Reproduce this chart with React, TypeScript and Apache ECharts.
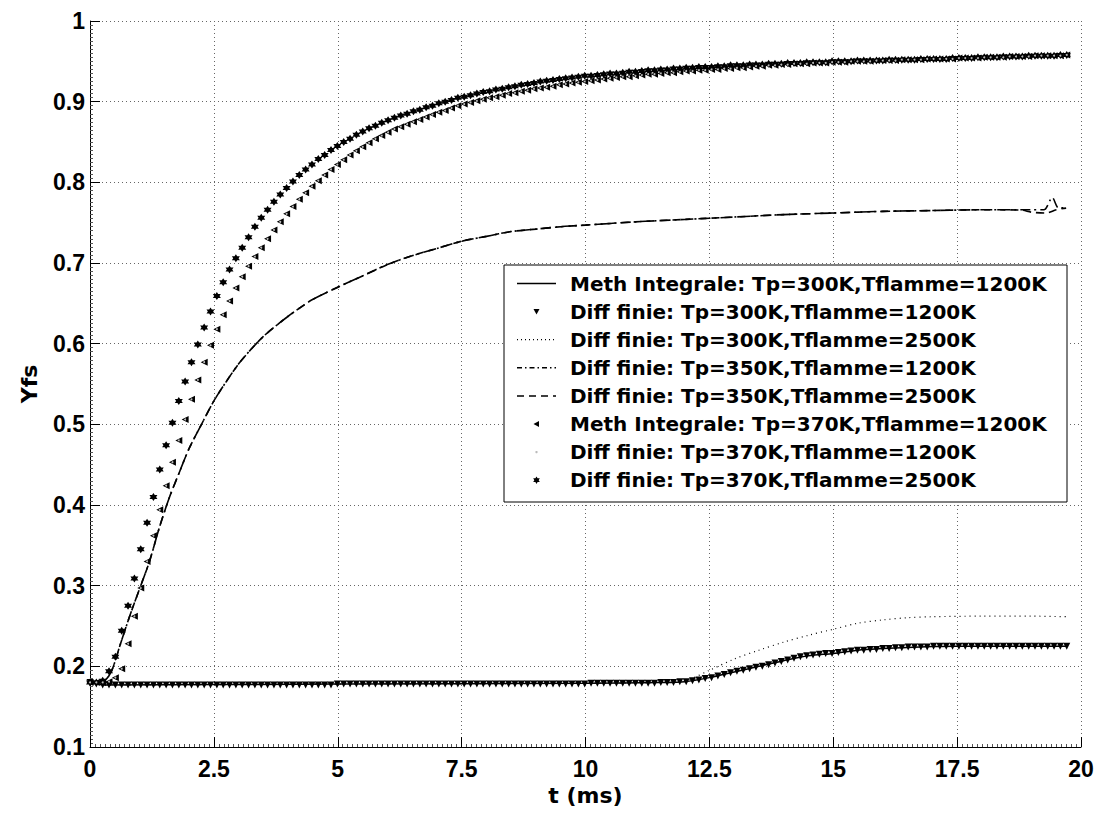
import React, { useEffect, useRef } from "react";
import * as echarts from "echarts";

// ---- sampling grid of the marker series (ms) ----
const T_STEP = 0.128;

// ---- axis ticks ----
const X_MIN = 0;
const X_MAX = 20;
const X_INTERVAL = 2.5;
const Y_MIN = 0.1;
const Y_MAX = 1;
const Y_INTERVAL = 0.1;

// ---- legend names (in order) ----
const NAMES = [
  "Meth Integrale: Tp=300K,Tflamme=1200K",
  "Diff finie: Tp=300K,Tflamme=1200K",
  "Diff finie: Tp=300K,Tflamme=2500K",
  "Diff finie: Tp=350K,Tflamme=1200K",
  "Diff finie: Tp=350K,Tflamme=2500K",
  "Meth Integrale: Tp=370K,Tflamme=1200K",
  "Diff finie: Tp=370K,Tflamme=1200K",
  "Diff finie: Tp=370K,Tflamme=2500K",
];

// ---- marker series values (one per grid step) ----
const STAR_370_2500 = [
  0.180, 0.180, 0.182, 0.194, 0.212, 0.244, 0.275, 0.309, 0.345, 0.378,
  0.410, 0.444, 0.474, 0.502, 0.529, 0.553, 0.577, 0.599, 0.620, 0.640,
  0.659, 0.676, 0.692, 0.706, 0.719, 0.732, 0.745, 0.756, 0.766, 0.776,
  0.785, 0.793, 0.801, 0.809, 0.816, 0.822, 0.829, 0.834, 0.840, 0.845,
  0.850, 0.854, 0.859, 0.863, 0.867, 0.870, 0.874, 0.877, 0.880, 0.883,
  0.885, 0.888, 0.890, 0.893, 0.895, 0.898, 0.900, 0.902, 0.905, 0.906,
  0.908, 0.910, 0.912, 0.913, 0.915, 0.916, 0.918, 0.919, 0.921, 0.922,
  0.923, 0.925, 0.926, 0.927, 0.928, 0.929, 0.930, 0.931, 0.932, 0.932,
  0.933, 0.934, 0.935, 0.935, 0.936, 0.937, 0.937, 0.938, 0.939, 0.939,
  0.940, 0.940, 0.941, 0.941, 0.942, 0.942, 0.943, 0.943, 0.943, 0.944,
  0.944, 0.945, 0.945, 0.945, 0.946, 0.946, 0.946, 0.947, 0.947, 0.947,
  0.948, 0.948, 0.948, 0.949, 0.949, 0.949, 0.949, 0.950, 0.950, 0.950,
  0.950, 0.951, 0.951, 0.951, 0.951, 0.951, 0.952, 0.952, 0.952, 0.952,
  0.952, 0.953, 0.953, 0.953, 0.953, 0.953, 0.954, 0.954, 0.954, 0.954,
  0.955, 0.955, 0.955, 0.955, 0.956, 0.956, 0.956, 0.956, 0.957, 0.957,
  0.957, 0.957, 0.957, 0.958, 0.958,
];

const TRI_370_1200 = [
  0.180, 0.180, 0.180, 0.181, 0.186, 0.197, 0.228, 0.262, 0.297, 0.330,
  0.362, 0.394, 0.424, 0.453, 0.480, 0.506, 0.531, 0.555, 0.577, 0.598,
  0.618, 0.636, 0.653, 0.669, 0.683, 0.696, 0.708, 0.719, 0.730, 0.741,
  0.751, 0.761, 0.770, 0.779, 0.787, 0.795, 0.802, 0.809, 0.816, 0.822,
  0.828, 0.834, 0.839, 0.844, 0.849, 0.854, 0.858, 0.862, 0.866, 0.869,
  0.872, 0.875, 0.878, 0.881, 0.884, 0.887, 0.889, 0.892, 0.895, 0.897,
  0.899, 0.901, 0.903, 0.905, 0.906, 0.908, 0.910, 0.911, 0.913, 0.914,
  0.916, 0.917, 0.918, 0.919, 0.921, 0.922, 0.923, 0.924, 0.925, 0.926,
  0.927, 0.928, 0.929, 0.930, 0.931, 0.931, 0.932, 0.933, 0.934, 0.934,
  0.935, 0.936, 0.936, 0.937, 0.938, 0.938, 0.939, 0.939, 0.940, 0.940,
  0.941, 0.941, 0.942, 0.942, 0.943, 0.944, 0.944, 0.945, 0.945, 0.946,
  0.946, 0.947, 0.947, 0.947, 0.948, 0.948, 0.948, 0.949, 0.949, 0.949,
  0.950, 0.950, 0.950, 0.950, 0.951, 0.951, 0.951, 0.951, 0.952, 0.952,
  0.952, 0.952, 0.953, 0.953, 0.953, 0.953, 0.953, 0.954, 0.954, 0.954,
  0.954, 0.955, 0.955, 0.955, 0.955, 0.956, 0.956, 0.956, 0.956, 0.957,
  0.957, 0.957, 0.957, 0.957, 0.958,
];

const TRI_300_1200 = [
  0.180, 0.178, 0.177, 0.177, 0.177, 0.177, 0.177, 0.177, 0.177, 0.177,
  0.177, 0.177, 0.177, 0.177, 0.177, 0.177, 0.177, 0.177, 0.177, 0.177,
  0.177, 0.177, 0.177, 0.177, 0.177, 0.177, 0.177, 0.177, 0.177, 0.177,
  0.177, 0.177, 0.177, 0.177, 0.177, 0.177, 0.177, 0.177, 0.177, 0.178,
  0.178, 0.178, 0.178, 0.178, 0.178, 0.178, 0.178, 0.178, 0.178, 0.178,
  0.178, 0.178, 0.178, 0.178, 0.178, 0.178, 0.178, 0.178, 0.178, 0.178,
  0.178, 0.178, 0.178, 0.178, 0.178, 0.178, 0.178, 0.178, 0.178, 0.178,
  0.178, 0.178, 0.178, 0.178, 0.178, 0.178, 0.178, 0.178, 0.178, 0.179,
  0.179, 0.179, 0.179, 0.179, 0.179, 0.179, 0.179, 0.179, 0.179, 0.179,
  0.180, 0.180, 0.180, 0.181, 0.181, 0.182, 0.183, 0.185, 0.186, 0.188,
  0.190, 0.192, 0.194, 0.195, 0.197, 0.199, 0.200, 0.202, 0.204, 0.206,
  0.208, 0.210, 0.212, 0.213, 0.214, 0.215, 0.216, 0.216, 0.217, 0.218,
  0.219, 0.220, 0.220, 0.221, 0.221, 0.222, 0.222, 0.223, 0.223, 0.224,
  0.224, 0.224, 0.224, 0.225, 0.225, 0.225, 0.225, 0.225, 0.225, 0.225,
  0.225, 0.225, 0.225, 0.225, 0.225, 0.225, 0.225, 0.225, 0.225, 0.225,
  0.225, 0.225, 0.225, 0.225, 0.225,
];

// ---- line series: [t (ms), Yfs] ----
const LINE_300_1200: number[][] = [
  [0, 0.18], [0.3, 0.177], [5, 0.178], [10, 0.179], [11.5, 0.18], [12, 0.181],
  [12.5, 0.186], [13, 0.193], [13.5, 0.2], [14, 0.207], [14.5, 0.213], [15, 0.216],
  [15.5, 0.22], [16, 0.222], [16.5, 0.2235], [17, 0.2245], [17.5, 0.225], [19.7, 0.225],
];

const DOT_300_2500: number[][] = [
  [0, 0.18], [0.3, 0.177], [5, 0.178], [10, 0.179], [11.5, 0.18], [12, 0.182],
  [12.5, 0.195], [13, 0.209], [13.5, 0.22], [14, 0.23], [14.5, 0.2385], [15, 0.246],
  [15.5, 0.2535], [16, 0.2575], [16.5, 0.2603], [17, 0.2615], [18, 0.2622],
  [19, 0.2622], [19.7, 0.2615],
];

const DASHDOT_350_1200: number[][] = [
  [0, 0.18], [0.25, 0.181], [0.4, 0.19], [0.5, 0.205], [0.6, 0.225], [0.8, 0.262],
  [1.0, 0.296], [1.2, 0.33], [1.4, 0.372], [1.6, 0.409], [1.8, 0.44], [2.0, 0.47],
  [2.25, 0.5], [2.5, 0.529], [2.75, 0.553], [3.0, 0.575], [3.25, 0.593], [3.5, 0.609],
  [3.75, 0.622], [4.0, 0.634], [4.25, 0.645], [4.5, 0.655], [5.0, 0.67], [5.5, 0.684],
  [6.0, 0.698], [6.5, 0.709], [7.0, 0.718], [7.5, 0.727], [8.0, 0.733], [8.5, 0.739],
  [9.0, 0.742], [9.5, 0.745], [10, 0.747], [11, 0.751], [12, 0.754], [13, 0.757],
  [14, 0.76], [15, 0.762], [16, 0.764], [17, 0.765], [18, 0.766], [19, 0.766],
  [19.25, 0.766], [19.42, 0.781], [19.55, 0.768], [19.7, 0.769],
];

const DASH_350_2500: number[][] = [
  [0, 0.18], [0.25, 0.181], [0.4, 0.19], [0.5, 0.205], [0.6, 0.225], [0.8, 0.262],
  [1.0, 0.296], [1.2, 0.33], [1.4, 0.372], [1.6, 0.409], [1.8, 0.44], [2.0, 0.47],
  [2.25, 0.5], [2.5, 0.529], [2.75, 0.553], [3.0, 0.575], [3.25, 0.593], [3.5, 0.609],
  [3.75, 0.622], [4.0, 0.634], [4.25, 0.645], [4.5, 0.655], [5.0, 0.67], [5.5, 0.684],
  [6.0, 0.698], [6.5, 0.709], [7.0, 0.718], [7.5, 0.727], [8.0, 0.733], [8.5, 0.739],
  [9.0, 0.742], [9.5, 0.745], [10, 0.747], [11, 0.751], [12, 0.754], [13, 0.757],
  [14, 0.76], [15, 0.762], [16, 0.764], [17, 0.765], [18, 0.766], [18.8, 0.7655],
  [19.0, 0.763], [19.3, 0.762], [19.5, 0.766], [19.7, 0.768],
];

const HEXAGRAM =
  "path://M0,-10L2.887,-5L8.66,-5L5.77,0L8.66,5L2.887,5L0,10L-2.887,5L-8.66,5L-5.77,0L-8.66,-5L-2.887,-5Z";
// unit hexagram outline for the legend icon
const HEX_UNIT = [
  [0, -1], [0.289, -0.5], [0.866, -0.5], [0.577, 0], [0.866, 0.5], [0.289, 0.5],
  [0, 1], [-0.289, 0.5], [-0.866, 0.5], [-0.577, 0], [-0.866, -0.5], [-0.289, -0.5],
];

const TICK_FONT = "'Liberation Sans', Arial, Helvetica, sans-serif";
const LEGEND_FONT = "'DejaVu Sans', 'Liberation Sans', sans-serif";

// legend box layout (pixels)
const LEG_X = 504;
const LEG_Y = 265;
const LEG_W = 563;
const LEG_H = 237;
const LEG_ROW0 = 283.5;
const LEG_ROW_STEP = 28.1;
const LEG_ICON_X1 = 517;
const LEG_ICON_X2 = 556;
const LEG_TEXT_X = 570;

// legend icon kinds per entry
const LEG_KIND = ["solid", "downTri", "dotted", "dashdot", "dashed", "leftTri", "tinyDot", "star"];

function withTime(vals: number[]): number[][] {
  return vals.map((v, i) => [Math.round(i * T_STEP * 1000) / 1000, v]);
}

function legendGraphics() {
  const els: any[] = [
    {
      type: "rect",
      shape: { x: LEG_X, y: LEG_Y, width: LEG_W, height: LEG_H },
      style: { fill: "#fff", stroke: "#000", lineWidth: 1 },
      z: 100,
    },
  ];
  const cx = (LEG_ICON_X1 + LEG_ICON_X2) / 2;
  NAMES.forEach((name, k) => {
    const cy = LEG_ROW0 + k * LEG_ROW_STEP;
    els.push({
      type: "text",
      x: LEG_TEXT_X,
      y: cy,
      z: 101,
      style: {
        text: name,
        fill: "#000",
        fontFamily: LEGEND_FONT,
        fontWeight: "bold",
        fontSize: 20,
        align: "left",
        verticalAlign: "middle",
      },
    });
    const kind = LEG_KIND[k];
    const lineDash: Record<string, number[] | null> = {
      solid: null,
      dotted: [1, 3],
      dashdot: [5, 3, 1.5, 3],
      dashed: [7, 5],
    };
    if (kind in lineDash) {
      els.push({
        type: "line",
        z: 101,
        shape: { x1: LEG_ICON_X1, y1: cy, x2: LEG_ICON_X2, y2: cy },
        style: {
          stroke: "#000",
          lineWidth: kind === "dotted" ? 1.2 : 1.5,
          lineDash: lineDash[kind] || undefined,
        },
      });
    } else if (kind === "downTri") {
      els.push({
        type: "polygon",
        z: 101,
        shape: { points: [[cx - 3, cy - 2.5], [cx + 3, cy - 2.5], [cx, cy + 3]] },
        style: { fill: "#000" },
      });
    } else if (kind === "leftTri") {
      els.push({
        type: "polygon",
        z: 101,
        shape: { points: [[cx + 2.5, cy - 3], [cx + 2.5, cy + 3], [cx - 3, cy]] },
        style: { fill: "#000" },
      });
    } else if (kind === "tinyDot") {
      els.push({
        type: "circle",
        z: 101,
        shape: { cx, cy, r: 1.2 },
        style: { fill: "#bbb" },
      });
    } else if (kind === "star") {
      els.push({
        type: "polygon",
        z: 101,
        shape: { points: HEX_UNIT.map(([u, v]) => [cx + u * 3.8, cy + v * 3.8]) },
        style: { fill: "#000" },
      });
    }
  });
  return els;
}

export default function App() {
  const ref = useRef<HTMLDivElement>(null);

  useEffect(() => {
    if (!ref.current) return;
    const chart = echarts.init(ref.current, undefined, { renderer: "svg" });

    const axisCommon = {
      axisLine: { show: true, onZero: false, lineStyle: { color: "#000", width: 1 } },
      axisTick: { show: true, inside: true, length: 10, lineStyle: { color: "#000", width: 1 } },
      minorTick: { show: true, length: 3, lineStyle: { color: "#555", width: 1 } },
      splitLine: { show: true, lineStyle: { color: "#666", width: 1, type: [1, 3] } },
      axisLabel: {
        color: "#000",
        fontFamily: TICK_FONT,
        fontWeight: "bold",
        fontSize: 23,
      },
      nameTextStyle: {
        color: "#000",
        fontFamily: LEGEND_FONT,
        fontWeight: "bold",
        fontSize: 22,
      },
    };

    const markerStyle = { color: "#000", opacity: 1 };

    chart.setOption({
      animation: false,
      backgroundColor: "#fff",
      grid: { left: 90, right: 18, top: 21, bottom: 67, containLabel: false },
      xAxis: {
        type: "value",
        min: X_MIN,
        max: X_MAX,
        interval: X_INTERVAL,
        name: "t (ms)",
        nameLocation: "middle",
        nameGap: 37,
        ...axisCommon,
        minorTick: { ...axisCommon.minorTick, splitNumber: 25 },
        axisLabel: { ...axisCommon.axisLabel, margin: 10 },
      },
      yAxis: {
        type: "value",
        min: Y_MIN,
        max: Y_MAX,
        interval: Y_INTERVAL,
        name: "Yfs",
        nameLocation: "middle",
        nameGap: 50,
        ...axisCommon,
        minorTick: { ...axisCommon.minorTick, splitNumber: 20 },
        axisLabel: { ...axisCommon.axisLabel, margin: 5 },
      },
      legend: { show: false },
      graphic: legendGraphics(),
      series: [
        {
          name: NAMES[0],
          type: "line",
          data: LINE_300_1200,
          symbol: "none",
          smooth: 0.3,
          lineStyle: { color: "#000", width: 1.5, type: "solid" },
          itemStyle: { color: "#000" },
          z: 3,
        },
        {
          name: NAMES[1],
          type: "scatter",
          data: withTime(TRI_300_1200),
          symbol: "triangle",
          symbolRotate: 180,
          symbolSize: 7,
          itemStyle: markerStyle,
          z: 4,
        },
        {
          name: NAMES[2],
          type: "line",
          data: DOT_300_2500,
          symbol: "none",
          smooth: 0.3,
          lineStyle: { color: "#000", width: 1.2, type: [1, 4] },
          itemStyle: { color: "#000" },
          z: 3,
        },
        {
          name: NAMES[3],
          type: "line",
          data: DASHDOT_350_1200,
          symbol: "none",
          smooth: 0.3,
          lineStyle: { color: "#000", width: 1.6, type: [10, 4, 2, 4] },
          itemStyle: { color: "#000" },
          z: 3,
        },
        {
          name: NAMES[4],
          type: "line",
          data: DASH_350_2500,
          symbol: "none",
          smooth: 0.3,
          lineStyle: { color: "#000", width: 1.6, type: [8, 5] },
          itemStyle: { color: "#000" },
          z: 3,
        },
        {
          name: NAMES[5],
          type: "scatter",
          data: withTime(TRI_370_1200),
          symbol: "triangle",
          symbolRotate: 90,
          symbolSize: 7,
          itemStyle: markerStyle,
          z: 4,
        },
        {
          name: NAMES[6],
          type: "scatter",
          data: withTime(TRI_370_1200),
          symbol: "circle",
          symbolSize: 2,
          itemStyle: { color: "#bbb", opacity: 1 },
          z: 5,
        },
        {
          name: NAMES[7],
          type: "scatter",
          data: withTime(STAR_370_2500),
          symbol: HEXAGRAM,
          symbolSize: 8,
          itemStyle: markerStyle,
          z: 4,
        },
      ],
    });

    return () => chart.dispose();
  }, []);

  return (
    <div
      ref={ref}
      style={{ position: "fixed", left: 0, top: 0, width: 1099, height: 814, background: "#fff" }}
    />
  );
}
